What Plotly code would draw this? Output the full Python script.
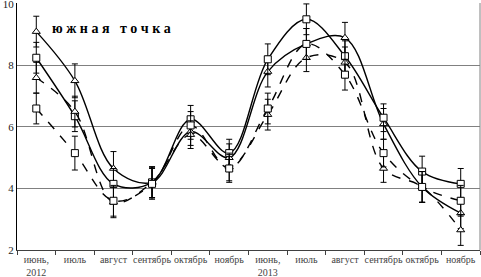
import plotly.graph_objects as go

months = ["июнь,<br>2012", "июль", "август", "сентябрь", "октябрь", "ноябрь",
          "июнь,<br>2013", "июль", "август", "сентябрь", "октябрь", "ноябрь"]
x_idx = list(range(len(months)))

solid_tri = [9.1, 7.5, 4.65, 4.2, 5.85, 5.0, 7.8, 8.7, 8.9, 6.1, 4.05, 3.2]
solid_sq = [8.25, 6.35, 4.15, 4.2, 6.25, 5.15, 8.2, 9.5, 8.3, 6.3, 4.55, 4.15]
dash_tri = [7.6, 6.5, 3.55, 4.2, 5.75, 4.7, 6.4, 8.25, 8.1, 4.65, 4.05, 2.65]
dash_sq = [6.6, 5.15, 3.6, 4.15, 6.05, 4.65, 6.6, 8.7, 7.7, 5.15, 4.05, 3.6]

err_solid_tri = [0.5, 0.55, 0.55, 0.5, 0.45, 0.45, 0.5, 0.5, 0.5, 0.5, 0.5, 0.5]
err_solid_sq = [0.5, 0.5, 0.5, 0.5, 0.45, 0.45, 0.5, 0.5, 0.5, 0.45, 0.5, 0.5]
err_dash_tri = [0.5, 0.5, 0.5, 0.5, 0.45, 0.45, 0.5, 0.45, 0.5, 0.45, 0.5, 0.5]
err_dash_sq = [0.5, 0.55, 0.5, 0.5, 0.45, 0.45, 0.5, 0.5, 0.5, 0.45, 0.5, 0.5]

y_ticks = [2, 4, 6, 8, 10]
title_text = "ю ж н а я   т о ч к а"

fig = go.Figure()

series = [
    (solid_tri, err_solid_tri, "solid", "triangle-up"),
    (solid_sq, err_solid_sq, "solid", "square"),
    (dash_tri, err_dash_tri, "dash", "triangle-up"),
    (dash_sq, err_dash_sq, "dash", "square"),
]
for vals, errs, dash, sym in series:
    fig.add_trace(go.Scatter(
        x=x_idx, y=vals, mode="lines+markers",
        line=dict(color="black", width=1.4, dash=dash, shape="spline", smoothing=1.0),
        marker=dict(symbol=sym, size=7, color="white", line=dict(color="black", width=1)),
        error_y=dict(type="data", array=errs, visible=True, color="black", thickness=1, width=3),
        showlegend=False,
    ))

fig.add_annotation(x=(50 - 17) / 463, y=0.935, xref="paper", yref="paper", xanchor="left",
                   text="<b>" + title_text + "</b>",
                   showarrow=False, font=dict(family="Liberation Serif", size=14, color="black"))

fig.add_shape(type="line", xref="paper", yref="paper", x0=1, x1=1, y0=0, y1=1,
              line=dict(color="#808080", width=1))

fig.update_layout(
    width=481, height=277,
    margin=dict(l=17, r=1, t=3, b=27, autoexpand=False),
    paper_bgcolor="white", plot_bgcolor="white",
    font=dict(family="Liberation Serif", size=10, color="#333333"),
)
fig.update_xaxes(
    range=[-0.5, 11.5], tickmode="array", tickvals=x_idx, ticktext=months,
    ticks="", showgrid=False, showline=True, linecolor="#404040", linewidth=1,
    tickfont=dict(size=10, color="#444444"), automargin=False,
    minor=dict(tickmode="array", tickvals=[i - 0.5 for i in range(13)],
               ticks="outside", ticklen=4, tickcolor="#404040", showgrid=False),
    zeroline=False,
)
fig.update_yaxes(
    range=[2, 10.03], tickmode="array", tickvals=y_ticks, ticklabeloverflow="allow",
    showgrid=True, gridcolor="#808080", gridwidth=1, automargin=False,
    showline=True, linecolor="black", linewidth=1, ticks="", ticklen=0,
    tickfont=dict(size=11, color="#222222"), zeroline=False,
)

fig.write_html("out.html", config={"displayModeBar": False},
               post_script="document.body.style.margin='0';document.body.style.overflow='hidden';")
